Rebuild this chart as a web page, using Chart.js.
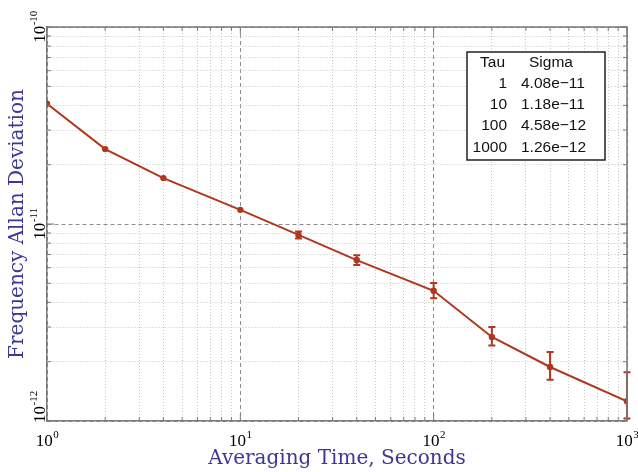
<!DOCTYPE html>
<html><head><meta charset="utf-8">
<script src="https://cdn.jsdelivr.net/npm/chart.js@4/dist/chart.umd.min.js"></script>
<style>html,body{margin:0;padding:0;background:#fff}</style>
</head><body>
<canvas id="c" width="638" height="472"></canvas>
<script>
// ---- data ----
const tau = [1, 2, 4, 10, 20, 40, 100, 200, 400, 1000];
const sigma = [4.08e-11, 2.40e-11, 1.71e-11, 1.18e-11, 8.8e-12, 6.56e-12, 4.58e-12, 2.67e-12, 1.88e-12, 1.26e-12];
const errHigh = [null, null, null, null, 9.15e-12, 6.95e-12, 5.02e-12, 3.0e-12, 2.24e-12, 1.77e-12];
const errLow  = [null, null, null, null, 8.45e-12, 6.2e-12, 4.2e-12, 2.42e-12, 1.62e-12, 1.03e-12];
const xDecadeExps = [0, 1, 2, 3];
const yDecadeExps = [-12, -11, -10];
const minorMantissas = [1, 2, 3, 4, 5, 6, 7, 8, 9];
const tableHeader = ['Tau', 'Sigma'];
const tableTau = ['1', '10', '100', '1000'];
const tableSigma = ['4.08e\u221211', '1.18e\u221211', '4.58e\u221212', '1.26e\u221212'];
const xTitle = 'Averaging Time, Seconds';
const yTitle = 'Frequency Allan Deviation';

const LINE = '#b0361e';
const TITLE = '#3c3797';

function ticksFor(exps) {
  const out = [];
  for (let k = 0; k < exps.length - 1; k++)
    for (const m of minorMantissas) out.push(m * Math.pow(10, exps[k]));
  out.push(Math.pow(10, exps[exps.length - 1]));
  return out;
}
const xTickVals = ticksFor(xDecadeExps);
const yTickVals = ticksFor(yDecadeExps);
function isDecade(v) { const l = Math.log10(v); return Math.abs(l - Math.round(l)) < 1e-6; }

const gridColor = ctx => (ctx.tick && isDecade(ctx.tick.value)) ? '#8c8c8c' : '#c6c6c6';
const gridDash = ctx => ctx.tick ? (isDecade(ctx.tick.value) ? [4, 3] : [1, 2]) : [];

const deco = {
  id: 'deco',
  afterDatasetsDraw(chart) {
    const ctx = chart.ctx, xs = chart.scales.x, ys = chart.scales.y;
    ctx.save();
    ctx.strokeStyle = LINE; ctx.lineWidth = 2;
    for (let i = 0; i < tau.length; i++) {
      if (errHigh[i] == null) continue;
      const x = xs.getPixelForValue(tau[i]);
      const y1 = ys.getPixelForValue(errHigh[i]);
      const y2 = ys.getPixelForValue(errLow[i]);
      ctx.beginPath();
      ctx.moveTo(x, y1); ctx.lineTo(x, y2);
      ctx.moveTo(x - 3.5, y1); ctx.lineTo(x + 3.5, y1);
      ctx.moveTo(x - 3.5, y2); ctx.lineTo(x + 3.5, y2);
      ctx.stroke();
    }
    ctx.restore();
  },
  afterDraw(chart) {
    const ctx = chart.ctx, xs = chart.scales.x, ys = chart.scales.y, a = chart.chartArea;
    ctx.save();
    // frame top/right
    ctx.strokeStyle = '#7a7a7a'; ctx.lineWidth = 1.5;
    ctx.beginPath();
    ctx.moveTo(a.left, a.top); ctx.lineTo(a.right, a.top); ctx.lineTo(a.right, a.bottom);
    ctx.stroke();
    // inward ticks
    ctx.lineWidth = 1;
    ctx.beginPath();
    for (const v of xTickVals) {
      const x = xs.getPixelForValue(v), len = isDecade(v) ? 7 : 4;
      ctx.moveTo(x, a.bottom); ctx.lineTo(x, a.bottom - len);
      ctx.moveTo(x, a.top); ctx.lineTo(x, a.top + len);
    }
    for (const v of yTickVals) {
      const y = ys.getPixelForValue(v), len = isDecade(v) ? 7 : 4;
      ctx.moveTo(a.left, y); ctx.lineTo(a.left + len, y);
      ctx.moveTo(a.right, y); ctx.lineTo(a.right - len, y);
    }
    ctx.stroke();
    // tick labels with superscripts
    const big = '17px "Liberation Serif", serif', small = '11px "Liberation Serif", serif';
    ctx.fillStyle = '#000'; ctx.textBaseline = 'alphabetic'; ctx.textAlign = 'left';
    function drawPow(e, cx, base) {
      ctx.font = big; const w1 = ctx.measureText('10').width;
      ctx.font = small; const w2 = ctx.measureText(String(e)).width;
      let sx = cx - (w1 + w2) / 2;
      ctx.font = big; ctx.fillText('10', sx, base);
      ctx.font = small; ctx.fillText(String(e), sx + w1 + 0.5, base - 8);
      return w1 + w2;
    }
    for (const e of xDecadeExps) {
      drawPow(e, xs.getPixelForValue(Math.pow(10, e)), 446);
    }
    for (const e of yDecadeExps) {
      let y = ys.getPixelForValue(Math.pow(10, e));
      ctx.font = big; const w1 = ctx.measureText('10').width;
      ctx.font = small; const w2 = ctx.measureText(String(e)).width;
      const half = (w1 + w2) / 2;
      if (y + half > a.bottom + 2) y = a.bottom + 2 - half;
      ctx.save();
      ctx.translate(45, y); ctx.rotate(-Math.PI / 2);
      drawPow(e, 0, 0);
      ctx.restore();
    }
    // table legend
    const bx = 467, by = 52, bw = 138, bh = 108;
    ctx.fillStyle = '#fff'; ctx.fillRect(bx, by, bw, bh);
    ctx.strokeStyle = '#222'; ctx.lineWidth = 1.5; ctx.strokeRect(bx, by, bw, bh);
    ctx.fillStyle = '#111'; ctx.font = '15.5px "Liberation Sans", Arial, sans-serif';
    const rowY = [67, 88, 109, 130, 152];
    ctx.textAlign = 'right'; ctx.fillText(tableHeader[0], 505, rowY[0]);
    ctx.textAlign = 'center'; ctx.fillText(tableHeader[1], 551, rowY[0]);
    for (let i = 0; i < tableTau.length; i++) {
      ctx.textAlign = 'right'; ctx.fillText(tableTau[i], 507, rowY[i + 1]);
      ctx.textAlign = 'left'; ctx.fillText(tableSigma[i], 521, rowY[i + 1]);
    }
    ctx.restore();
  }
};

new Chart(document.getElementById('c'), {
  type: 'line',
  data: {
    datasets: [{
      data: tau.map((t, i) => ({ x: t, y: sigma[i] })),
      borderColor: LINE, backgroundColor: LINE, borderWidth: 2,
      pointRadius: 3.2, pointHoverRadius: 3.2, pointBackgroundColor: LINE, pointBorderWidth: 0,
      tension: 0, fill: false
    }]
  },
  options: {
    responsive: false, animation: false,
    layout: { padding: { left: 0, right: 11, top: 27, bottom: 0 } },
    plugins: { legend: { display: false }, tooltip: { enabled: false } },
    scales: {
      x: {
        type: 'logarithmic', min: 1, max: 1000,
        afterBuildTicks: s => { s.ticks = xTickVals.map(v => ({ value: v })); },
        afterFit: s => { s.height = 51; },
        ticks: { display: false, autoSkip: false },
        grid: { color: gridColor, lineWidth: 1, drawTicks: false },
        border: { display: true, color: '#7a7a7a', width: 1.5, dash: gridDash },
        title: { display: true, text: xTitle, color: TITLE,
          font: { family: '"DejaVu Serif", serif', size: 20 }, padding: { top: 0, bottom: 1 } }
      },
      y: {
        type: 'logarithmic', min: 1e-12, max: 1e-10,
        afterBuildTicks: s => { s.ticks = yTickVals.map(v => ({ value: v })); },
        afterFit: s => { s.width = 47; },
        ticks: { display: false, autoSkip: false },
        grid: { color: gridColor, lineWidth: 1, drawTicks: false },
        border: { display: true, color: '#7a7a7a', width: 1.5, dash: gridDash },
        title: { display: true, text: yTitle, color: TITLE,
          font: { family: '"DejaVu Serif", serif', size: 20 }, padding: { top: 6, bottom: 0 } }
      }
    }
  },
  plugins: [deco]
});
</script>
</body></html>
